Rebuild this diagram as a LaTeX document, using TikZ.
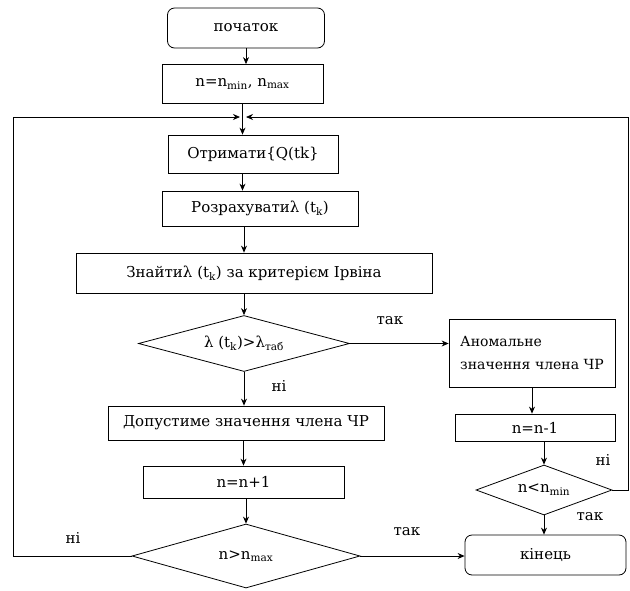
\documentclass[tikz,border=0pt]{standalone}
\usepackage{fontspec}
\setmainfont{DejaVu Serif}
\usetikzlibrary{shapes.geometric,arrows.meta}
\begin{document}
\begin{tikzpicture}[x=1pt, y=-1pt, line width=0.8pt,
  font=\fontsize{15}{23}\selectfont,
  >={Stealth[length=7pt,width=6pt]},
  block/.style={draw, rectangle, inner sep=0pt},
  term/.style={draw, rectangle, rounded corners=7pt, inner sep=0pt},
  cond/.style={draw, diamond, inner sep=0pt}]
\useasboundingbox (0,0) rectangle (630,590);
\node (start) at (246,28) [term, minimum width=157, minimum height=40] {початок};
\node (init) at (242.5,84) [block, minimum width=161, minimum height=39] {n=n\textsubscript{min}, n\textsubscript{max}};
\node (get) at (253,154) [block, minimum width=170, minimum height=38] {Отримати\{Q(tk\}};
\node (calc) at (260,208.5) [block, minimum width=196, minimum height=35] {Розрахуватиλ (t\textsubscript{k})};
\node (find) at (254,273) [block, minimum width=356, minimum height=40] {Знайтиλ (t\textsubscript{k}) за критерієм Ірвіна};
\node (dec1) at (244,343.5) [cond, aspect=3.77, minimum width=211, minimum height=56] {λ (t\textsubscript{k})>λ\textsubscript{таб}};
\node (normal) at (246,423) [block, minimum width=276, minimum height=34] {Допустиме значення члена ЧР};
\node (inc) at (243.5,482) [block, minimum width=201, minimum height=32] {n=n+1};
\node (dec2) at (246,556) [cond, aspect=3.56, minimum width=228, minimum height=64] {n>n\textsubscript{max}};
\node (anom) at (532,353) [block, minimum width=166, minimum height=68, align=left, font=\fontsize{14}{23}\selectfont] {Аномальне\\значення члена ЧР};
\node (dec) at (535,427.5) [block, minimum width=160, minimum height=27] {n=n-1};
\node (dec3) at (544,490) [cond, aspect=2.72, minimum width=136, minimum height=50] {n<n\textsubscript{min}};
\node (end) at (545.5,555) [term, minimum width=161, minimum height=40] {кінець};
\coordinate (lft) at (13,117);
\coordinate (rgt) at (628,117);
\coordinate (inL) at (240,117);
\coordinate (inR) at (246,117);
\draw[->] (start.south) -- (start.south |- init.north);
\draw[->] (init.south) -- (init.south |- get.north);
\draw[->] (init.south |- get.south) -- (init.south |- calc.north);
\draw[->] (dec1.north |- calc.south) -- (dec1.north |- find.north);
\draw[->] (dec1.north |- find.south) -- (dec1.north);
\draw[->] (dec1.south) -- (dec1.south |- normal.north);
\draw[->] (inc.north |- normal.south) -- (inc.north);
\draw[->] (dec2.north |- inc.south) -- (dec2.north);
\draw[->] (dec1.east) -- (dec1.east -| anom.west);
\draw[->] (anom.south) -- (anom.south |- dec.north);
\draw[->] (dec3.north |- dec.south) -- (dec3.north);
\draw[->] (dec3.south) -- (dec3.south |- end.north);
\draw[->] (dec2.east) -- (dec2.east -| end.west);
\draw[->] (dec2.west) -| (lft) -- (inL);
\draw[->] (dec3.east) -| (rgt) -- (inR);
\node (yes1) at (390,321) {так};
\node (no1) at (279,386) {ні};
\node (no2) at (73,538) {ні};
\node (yes2) at (407,532) {так};
\node (no3) at (603,460) {ні};
\node (yes3) at (590,517) {так};
\end{tikzpicture}
\end{document}
